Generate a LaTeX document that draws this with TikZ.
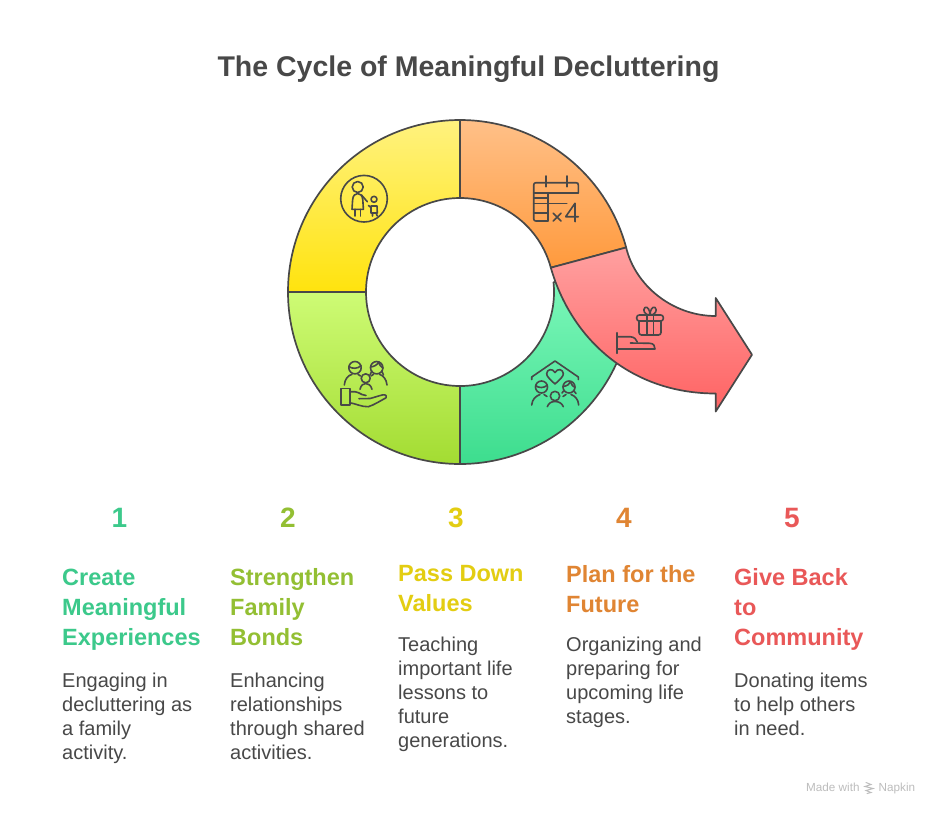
\documentclass[tikz,border=0pt]{standalone}
\usepackage{fontspec}
\setmainfont{Liberation Sans}
\definecolor{ink}{HTML}{484848}
\definecolor{cA}{HTML}{3CC98B}
\definecolor{cB}{HTML}{93BF33}
\definecolor{cC}{HTML}{E3CD12}
\definecolor{cD}{HTML}{E08533}
\definecolor{cE}{HTML}{E95858}
\definecolor{yT}{HTML}{FFF27F}\definecolor{yB}{HTML}{FFE30E}
\definecolor{oT}{HTML}{FFC088}\definecolor{oB}{HTML}{FF9A3D}
\definecolor{rT}{HTML}{FFA0A0}\definecolor{rB}{HTML}{FF6363}
\definecolor{lT}{HTML}{CEFB75}\definecolor{lB}{HTML}{A3DC32}
\definecolor{gT}{HTML}{7EF8BB}\definecolor{gB}{HTML}{3DDD8E}
\definecolor{wm}{HTML}{BDBDBD}
\tikzset{
  seg/.style={draw=ink,line width=1.7pt,line join=round},
  divider/.style={draw=ink,line width=2.4pt},
  icon/.style={draw=ink,line width=1.6pt,line cap=round,line join=round,fill=none},
  num/.style={font=\bfseries\fontsize{28}{30}\selectfont,anchor=base,inner sep=0pt},
  head/.style={font=\bfseries\fontsize{23.5}{30}\selectfont,anchor=north west,inner sep=0pt,align=left,execute at begin node={\rule{0pt}{22pt}}},
  body/.style={font=\fontsize{20}{24}\selectfont,text=ink,anchor=north west,inner sep=0pt,align=left,execute at begin node={\rule{0pt}{18pt}}},
  wmtext/.style={font=\fontsize{11.7}{14}\selectfont,text=wm,anchor=base west,inner sep=0pt},
}
\begin{document}
\begin{tikzpicture}[x=1pt,y=-1pt]
\useasboundingbox (0,0) rectangle (936,812);
\fill[white] (0,0) rectangle (936,812);
\node[font=\bfseries\fontsize{28.5}{30}\selectfont,text=ink,anchor=base,inner sep=0pt] (title) at (468.5,76) {The Cycle of Meaningful Decluttering};
% segments
\path[seg,top color=yT,bottom color=yB]
  (288,292) arc[start angle=180,end angle=90,radius=172pt] -- (460,198) arc[start angle=90,end angle=180,radius=94pt] -- cycle;
\path[seg,top color=oT,bottom color=oB]
  (460,120) arc[start angle=90,end angle=15,radius=172pt] -- (550.8,267.67) arc[start angle=15,end angle=90,radius=94pt] -- cycle;
\path[seg,top color=lT,bottom color=lB]
  (460,464) arc[start angle=270,end angle=180,radius=172pt] -- (366,292) arc[start angle=180,end angle=270,radius=94pt] -- cycle;
\path[seg,top color=gT,bottom color=gB]
  (460,464) arc[start angle=270,end angle=366,radius=172pt] -- (553.5,282.2) arc[start angle=366,end angle=270,radius=94pt] -- cycle;
\path[seg,top color=rT,bottom color=rB]
  (626.14,247.48) .. controls (635,285) and (672,316) .. (715.7,316) -- (715.7,298) -- (752,354.7) -- (715.7,411.5) -- (715.7,393.5)
  .. controls (631,393.5) and (571.4,339.5) .. (550.8,267.67) -- cycle;
\draw[divider] (460,120) -- (460,198) (288,292) -- (366,292) (460,386) -- (460,464);
% icon: parent and child
\draw[icon] (364,198.7) circle[radius=23.3pt];
\draw[icon] (357.7,187) circle[radius=5.5pt];
\draw[icon] (352,209.3) -- (352.6,200) .. controls (353,195.5) and (355,193.5) .. (357.7,193.5) .. controls (360.4,193.5) and (362.4,195.5) .. (362.8,200) -- (363.4,209.3) -- cycle;
\draw[icon] (354.7,209.3) -- (354.7,216) (360.3,209.3) -- (360.3,216);
\draw[icon] (361.5,195) -- (367.3,201.7);
\draw[icon] (374,199.3) circle[radius=3pt];
\draw[icon] (371,206) -- (377,206) -- (377.3,213) -- (371,213) -- cycle;
\draw[icon] (372.5,213) -- (372.5,216) (376,213) -- (377.3,216);
\draw[icon] (368.5,205.5) -- (371,207.5);
% icon: calendar times four
\draw[icon] (578.3,192.7) -- (578.3,185) .. controls (578.3,183.4) and (577.6,182.7) .. (576,182.7) -- (536,182.7) .. controls (534.4,182.7) and (533.7,183.4) .. (533.7,185) -- (533.7,218.7) .. controls (533.7,220.3) and (534.4,221) .. (536,221) -- (547.7,221);
\draw[icon] (545.7,176) -- (545.7,186.7) (566.7,176) -- (566.7,186.7);
\draw[icon] (533.7,192.7) -- (578.3,192.7);
\draw[icon] (547.7,192.7) -- (547.7,221);
\draw[icon] (533.7,197.7) -- (547.7,197.7) (533.7,203.3) -- (566.7,203.3) (533.7,212.7) -- (547.7,212.7);
\draw[icon] (553.3,213.3) -- (561,221) (561,213.3) -- (553.3,221);
\draw[icon] (575,221.7) -- (575,203.3) -- (565.7,216.7) -- (578.3,216.7);
% icon: gift on a hand
\draw[icon,rounded corners=2.5pt] (636.7,315) rectangle (663.3,321);
\draw[icon,rounded corners=2.5pt] (639,321) -- (639,335) -- (661,335) -- (661,321);
\draw[icon] (646.7,315) -- (646.7,335) (653.3,315) -- (653.3,335);
\draw[icon] (650,315) .. controls (645,315.5) and (642,310) .. (645,307.5) .. controls (647.5,306) and (650,310) .. (650,315);
\draw[icon] (650,315) .. controls (655,315.5) and (658,310) .. (655,307.5) .. controls (652.5,306) and (650,310) .. (650,315);
\draw[icon] (617,332.7) -- (617,353.3);
\draw[icon] (617,336.7) -- (630,336.7) .. controls (634,337) and (636.5,339) .. (637.3,342);
\draw[icon] (630.5,343) -- (650,343.3) .. controls (653.5,343.5) and (655.2,346) .. (655,349) -- (617,349);
% icon: family on a hand
\draw[icon] (355,367.7) circle[radius=6.2pt] (376.7,367.7) circle[radius=6.2pt] (365.7,378.3) circle[radius=4.5pt];
\draw[icon] (348.9,366.5) .. controls (352,369) and (358,369) .. (361,365.5);
\draw[icon] (370.6,367) .. controls (374,366.5) and (377.5,365) .. (378.5,362) .. controls (379.5,365) and (381,367) .. (383,368) (371.8,371) -- (370,375) (381.8,371) -- (383.5,375);
\draw[icon] (344.3,385) .. controls (344.8,379) and (348,375.5) .. (352,374.3) (358,374.3) -- (360.5,376);
\draw[icon] (387,385) .. controls (386.5,379) and (383,375.5) .. (379.5,374.3) (373.5,374.3) -- (371,376);
\draw[icon] (360,389.3) .. controls (361,385) and (363.5,383.5) .. (365.7,383.5) .. controls (368,383.5) and (371,385) .. (372,389.3);
\draw[icon] (341,388.5) rectangle (349.7,405);
\draw[icon] (349.7,391.7) -- (355,391.7) .. controls (358,391.7) and (359,393.5) .. (362,394.5) -- (366,395.5);
\draw[icon] (359,398.7) -- (370,398.5) .. controls (374,397.5) and (378,396) .. (383,394.8) .. controls (386,394.5) and (387.5,396.5) .. (386,397.8) .. controls (380,401) and (374,405) .. (368.3,406.7) .. controls (362,407) and (355,403.5) .. (349.7,402.7);
% icon: family under a roof
\draw[icon] (531.7,379.5) -- (531.7,377) -- (555,361) -- (578.3,377) -- (578.3,379.5);
\draw[icon] (555,384) .. controls (549,378.5) and (546.5,376) .. (546.7,373.5) .. controls (547,369) and (552.5,368) .. (555,372.5) .. controls (557.5,368) and (563,369) .. (563.3,373.5) .. controls (563.5,376) and (561,378.5) .. (555,384) -- cycle;
\draw[icon] (541.5,387) circle[radius=6pt] (569,387) circle[radius=6pt] (555,396) circle[radius=4.7pt];
\draw[icon] (535.7,385.7) .. controls (539,388.2) and (544,388.2) .. (547.2,385.2);
\draw[icon] (563,386.5) .. controls (566.5,386) and (569.5,384.5) .. (570.5,382) .. controls (571.5,385) and (573,386.5) .. (575,387.5) (563.5,391) -- (562,393) (574,391) -- (576,393.5);
\draw[icon] (531.7,405) .. controls (532.2,399) and (536,396) .. (540,394.5) (544,394.5) -- (547,396.5);
\draw[icon] (578.7,405) .. controls (578.2,399) and (575,396) .. (571,394.5) (566,394.5) -- (563,396.5);
\draw[icon] (547.3,406.7) .. controls (548.5,403) and (551.5,401.5) .. (555,401.5) .. controls (558.5,401.5) and (562,403) .. (563.3,406.7);
% labels
\node[num,text=cA] (n1) at (119.5,527.7) {1};
\node[num,text=cB] (n2) at (288,527.7) {2};
\node[num,text=cC] (n3) at (456,527.7) {3};
\node[num,text=cD] (n4) at (624,527.7) {4};
\node[num,text=cE] (n5) at (792,527.7) {5};
\node[head,text=cA] (h1) at (62,568.7) {Create\\Meaningful\\Experiences};
\node[head,text=cB] (h2) at (230,568.7) {Strengthen\\Family\\Bonds};
\node[head,text=cC] (h3) at (398,565.3) {Pass Down\\Values};
\node[head,text=cD] (h4) at (566,565.3) {Plan for the\\Future};
\node[head,text=cE] (h5) at (734,568.7) {Give Back\\to\\Community};
\node[body] (b1) at (62,673) {Engaging in\\decluttering as\\a family\\activity.};
\node[body] (b2) at (230,673) {Enhancing\\relationships\\through shared\\activities.};
\node[body] (b3) at (398,637) {Teaching\\important life\\lessons to\\future\\generations.};
\node[body] (b4) at (566,637) {Organizing and\\preparing for\\upcoming life\\stages.};
\node[body] (b5) at (734,673) {Donating items\\to help others\\in need.};
% watermark
\node[wmtext] (w1) at (806,791) {Made with};
\node[wmtext] (w2) at (878.5,791) {Napkin};
\draw[wm,line width=1pt,line cap=round] (866,782.5) -- (871,784.5) -- (865,786.5) -- (873,788.5) -- (866,790.5) -- (871,792.5) -- (867,793.5);
\end{tikzpicture}
\end{document}
